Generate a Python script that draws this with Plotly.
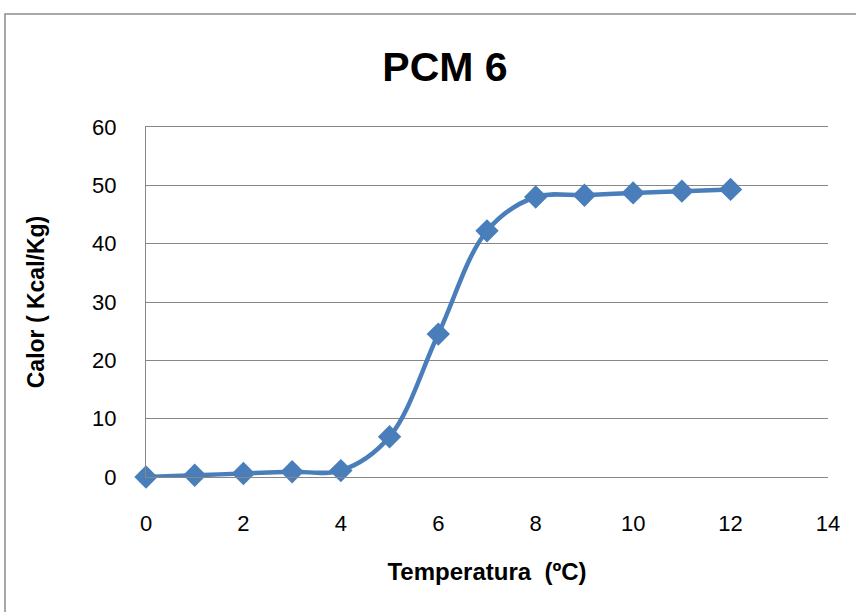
import plotly.graph_objects as go

temperatura = [0, 1, 2, 3, 4, 5, 6, 7, 8, 9, 10, 11, 12]
calor = [0.0, 0.3, 0.6, 0.9, 1.1, 6.9, 24.5, 42.2, 48.0, 48.3, 48.7, 49.0, 49.3]

W, H = 856, 612
L, R, T, B = 146, 28, 127, 135
pw, ph = W - L - R, H - T - B

color = "#4a7ebb"
grid = "#878787"
font = "Liberation Sans"

fig = go.Figure()
fig.add_trace(go.Scatter(
    x=temperatura, y=calor, mode="lines+markers",
    line=dict(color=color, width=4.5, shape="spline", smoothing=1.0),
    marker=dict(symbol="diamond", size=18, color=color),
    showlegend=False, cliponaxis=False,
))

fig.update_layout(
    width=W, height=H,
    margin=dict(l=L, r=R, t=T, b=B),
    paper_bgcolor="white", plot_bgcolor="white",
    title=dict(text="<b>PCM 6</b>", x=445 / W, xanchor="center",
               y=1 - 67 / H, yanchor="middle",
               font=dict(family=font, size=41, color="black")),
    xaxis=dict(range=[0, 14], dtick=2, tick0=0, showgrid=False, zeroline=False,
               showline=True, mirror=True, linecolor=grid, linewidth=1.3, ticks="",
               tickfont=dict(family=font, size=22, color="black"),
               ticklabelstandoff=26,
               title=dict(text="<b>Temperatura  (ºC)</b>", standoff=28,
                          font=dict(family=font, size=24, color="black"))),
    yaxis=dict(range=[0, 60], dtick=10, tick0=0, showgrid=True,
               gridcolor=grid, gridwidth=1.3, zeroline=False,
               showline=True, linecolor=grid, linewidth=1.3, ticks="",
               tickfont=dict(family=font, size=22, color="black"),
               ticklabelstandoff=24,
               title=dict(text="<b>Calor ( Kcal/Kg)</b>", standoff=40,
                          font=dict(family=font, size=23, color="black"))),
    shapes=[dict(type="rect", xref="paper", yref="paper",
                 x0=(5 - L) / pw, x1=(W + 20 - L) / pw,
                 y0=-(H + 20 - T - ph) / ph, y1=(H - 14 - B) / ph,
                 line=dict(color="#8c8c8c", width=1.5), layer="below")],
)

fig.write_html("out.html")
